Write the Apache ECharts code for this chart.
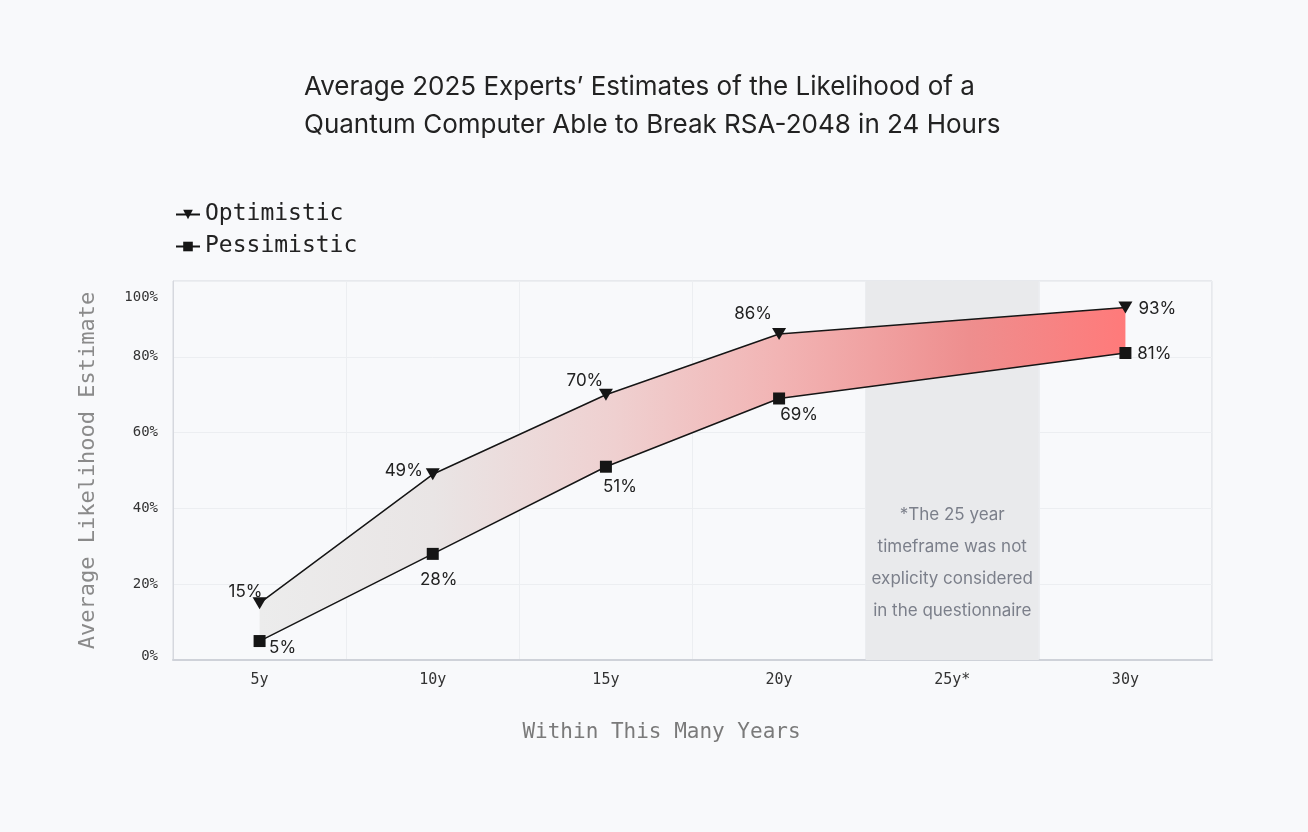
<!DOCTYPE html>
<html>
<head>
<meta charset="utf-8">
<script src="https://cdn.jsdelivr.net/npm/echarts@6/dist/echarts.min.js"></script>
<style>
html,body{margin:0;padding:0;background:#f8f9fb;}
#chart{width:1308px;height:832px;}
</style>
</head>
<body>
<div id="chart"></div>
<script>
const categories = ['5y', '10y', '15y', '20y', '25y*', '30y'];
const optimistic = [15, 49, 70, 86, null, 93];
const pessimistic = [5, 28, 51, 69, null, 81];
const yTicks = [0, 20, 40, 60, 80, 100];
const noteCategory = '25y*';
const noteText = '*The 25 year\ntimeframe was not\nexplicity considered\nin the questionnaire';

// label offsets (style only)
const optOffsets = [[-14, -11], [-29, -3], [-21, -14], [-26, -20], null, [32, 1]];
const pesOffsets = [[23, 7], [6, 26], [14, 20], [20, 16], null, [29, 1]];

const mono = 'DejaVu Sans Mono';
const sans = 'Inter';

const noteVals = categories.map(c => c === noteCategory ? yTicks[yTicks.length - 1] : null);

function mkData(vals, offs) {
  return vals.map((v, i) => v == null ? null : ({
    value: v,
    label: { offset: offs[i] }
  }));
}

const triPath = 'path://M0,0 L12,0 L6,10 Z';

const bandGradient = new echarts.graphic.LinearGradient(0, 0, 1, 0, [
  { offset: 0, color: '#ececec' },
  { offset: 0.2, color: '#e9e5e5' },
  { offset: 0.41, color: '#efd0d0' },
  { offset: 0.6, color: '#f2b4b4' },
  { offset: 0.82, color: '#ee8e8e' },
  { offset: 1, color: '#ff7a7a' }
]);

function renderBand(params, api) {
  const top = [], bottom = [];
  for (let i = 0; i < categories.length; i++) {
    if (optimistic[i] == null || pessimistic[i] == null) continue;
    top.push(api.coord([i, optimistic[i]]));
    bottom.push(api.coord([i, pessimistic[i]]));
  }
  const pts = top.concat(bottom.reverse());
  return {
    type: 'polygon',
    shape: { points: pts },
    style: { fill: bandGradient, stroke: null }
  };
}

const chart = echarts.init(document.getElementById('chart'));
chart.setOption({
  backgroundColor: '#f8f9fb',
  animation: false,
  title: {
    text: 'Average 2025 Experts\u2019 Estimates of the Likelihood of a\nQuantum Computer Able to Break RSA-2048 in 24 Hours',
    left: 299,
    top: 63,
    textStyle: { fontFamily: sans, fontSize: 26, fontWeight: 'normal', color: '#222', lineHeight: 38 }
  },
  legend: {
    data: ['Optimistic', 'Pessimistic'],
    orient: 'vertical',
    left: 170,
    top: 198,
    itemWidth: 24,
    itemHeight: 12,
    itemGap: 9,
    textStyle: { fontFamily: mono, fontSize: 23, color: '#222' }
  },
  grid: {
    left: 173, right: 96, top: 281, bottom: 172,
    show: true, borderColor: '#d6d8de', borderWidth: 1, backgroundColor: 'transparent'
  },
  xAxis: {
    type: 'category',
    data: categories,
    boundaryGap: true,
    name: 'Within This Many Years',
    nameLocation: 'middle',
    nameGap: 62,
    nameTextStyle: { fontFamily: mono, fontSize: 21, color: '#7a7a7a', padding: [0, 62, 0, 0] },
    axisLine: { lineStyle: { color: '#cfd2d9', width: 2 } },
    axisTick: { show: false },
    axisLabel: { fontFamily: mono, fontSize: 15, color: '#333', margin: 13 },
    splitLine: { show: true, lineStyle: { color: '#eceef1', width: 1 } }
  },
  yAxis: {
    type: 'value',
    min: yTicks[0],
    max: yTicks[yTicks.length - 1],
    interval: yTicks[1] - yTicks[0],
    name: 'Average Likelihood Estimate',
    nameLocation: 'middle',
    nameGap: 74,
    nameRotate: 90,
    nameTextStyle: { fontFamily: mono, fontSize: 22, color: '#8a8a8a' },
    axisLine: { show: true, lineStyle: { color: '#d6d8de', width: 1 } },
    axisTick: { show: false },
    axisLabel: {
      fontFamily: mono, fontSize: 14, color: '#333', margin: 15,
      formatter: function (v) {
        if (v === 100) return '{top|' + v + '%}';
        if (v === 0) return '{bot|' + v + '%}';
        return v + '%';
      },
      rich: {
        top: { fontFamily: mono, fontSize: 14, color: '#333', padding: [32, 0, 0, 0] },
        bot: { fontFamily: mono, fontSize: 14, color: '#333', padding: [0, 0, 8, 0] }
      }
    },
    splitLine: { show: true, lineStyle: { color: '#eceef1', width: 1 } }
  },
  series: [
    {
      name: 'note',
      type: 'bar',
      data: noteVals,
      barWidth: '100%',
      z: 1,
      silent: true,
      itemStyle: { color: '#e9eaec' },
      label: {
        show: true,
        position: 'insideBottom',
        distance: 33,
        formatter: noteText,
        fontFamily: sans,
        fontSize: 17,
        lineHeight: 32,
        color: '#7b7f8a',
        align: 'center'
      }
    },
    {
      name: 'band',
      type: 'custom',
      renderItem: renderBand,
      data: [0],
      z: 2,
      silent: true
    },
    {
      name: 'Optimistic',
      type: 'line',
      data: mkData(optimistic, optOffsets),
      connectNulls: true,
      symbol: triPath,
      symbolSize: [14, 12],
      z: 4,
      itemStyle: { color: '#151515' },
      lineStyle: { color: '#151515', width: 1.5 },
      label: {
        show: true,
        position: 'inside',
        formatter: '{c}%',
        fontFamily: sans,
        fontSize: 17,
        color: '#222'
      }
    },
    {
      name: 'Pessimistic',
      type: 'line',
      data: mkData(pessimistic, pesOffsets),
      connectNulls: true,
      symbol: 'rect',
      symbolSize: 12,
      z: 4,
      itemStyle: { color: '#151515' },
      lineStyle: { color: '#151515', width: 1.5 },
      label: {
        show: true,
        position: 'inside',
        formatter: '{c}%',
        fontFamily: sans,
        fontSize: 17,
        color: '#222'
      }
    }
  ]
});
</script>
</body>
</html>
